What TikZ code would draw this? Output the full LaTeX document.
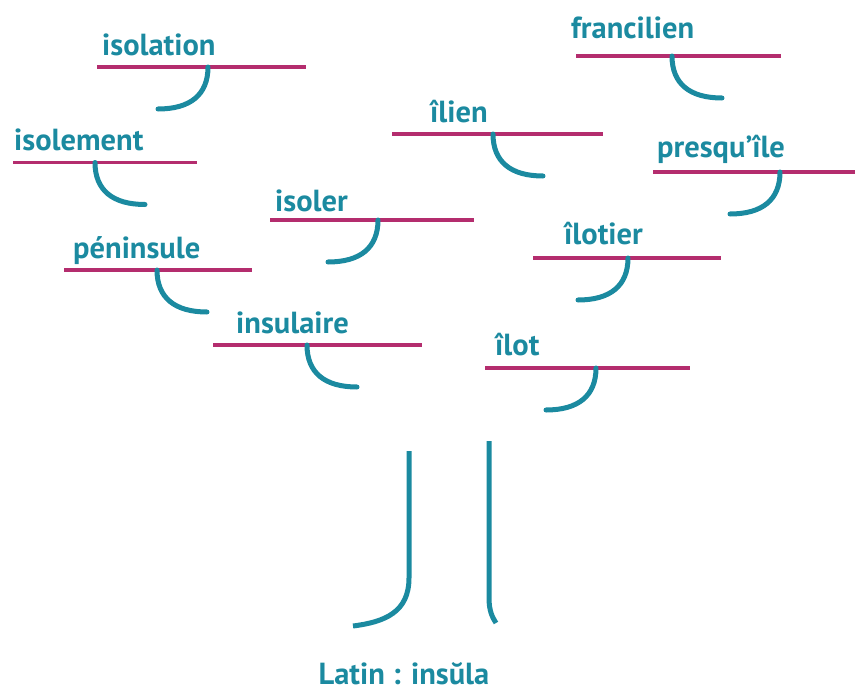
\documentclass[tikz,border=0pt]{standalone}
\usepackage{fontspec}
\setmainfont{PT Sans}
\definecolor{teal1}{RGB}{27,138,160}
\definecolor{mag1}{RGB}{180,45,110}
\begin{document}
\begin{tikzpicture}[x=1pt,y=-1pt,
  word/.style={anchor=base west,inner sep=0pt,text=teal1,font=\fontsize{30.5}{33}\selectfont\bfseries},
  branch/.style={draw=mag1,line width=3.4pt},
  hook/.style={draw=teal1,line width=5pt,line cap=round},
  trunk/.style={draw=teal1,line width=5pt,line cap=butt}]
\useasboundingbox (0,0) rectangle (855,688);
\foreach \t/\tx/\ty/\la/\lb/\ly/\hx/\d [count=\i] in {
  isolation/102/55/97/306/67/208/-1,
  isolement/14/150/13/197/162.5/95/1,
  isoler/275/211/270/474/220/378/-1,
  péninsule/73/258/64/252/270/157/1,
  insulaire/236/333/213/422/345/307/1,
  îlien/430/122/392/603/134/493/1,
  francilien/571/38/576/781/56/672/1,
  {presqu’île}/657/157/653/855/172/780/-1,
  îlotier/564/244/533/721/258/628/-1,
  îlot/495/355/485/690/368/596/-1}
{
  \node[word] (w\i) at (\tx,\ty) {\t};
  \coordinate (a\i) at (\la,\ly);
  \coordinate (b\i) at (\lb,\ly);
  \coordinate (h\i) at (\hx,\ly);
  \coordinate (c\i) at (\hx,\ly+28);
  \coordinate (d\i) at (\hx+18*\d,\ly+42);
  \coordinate (e\i) at (\hx+50*\d,\ly+42);
  \path[branch] (a\i) -- (b\i);
  \path[hook] (h\i) .. controls (c\i) and (d\i) .. (e\i);
}
% trunk
\coordinate (t1) at (409,451);
\coordinate (t2) at (409,578);
\coordinate (t3) at (353,626);
\coordinate (u1) at (489,441);
\coordinate (u2) at (489,598);
\coordinate (u3) at (496,623);
\path[trunk] (t1) -- (t2) .. controls (409,612) and (385,622) .. (t3);
\path[trunk] (u1) -- (u2) .. controls (489,610) and (492,617) .. (u3);
\node[word,anchor=base,text depth=0pt] (latin) at (404,684) {Latin : insŭla};
\end{tikzpicture}
\end{document}
